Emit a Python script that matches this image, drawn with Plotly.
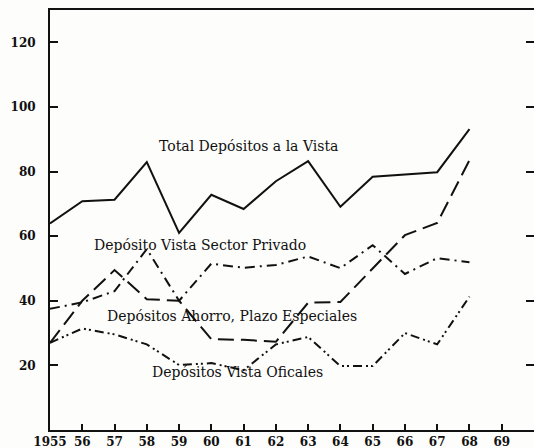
import plotly.graph_objects as go

# Depósitos (1955-1968), valores
anios = list(range(1955, 1969))
total_vista = [63.9, 70.8, 71.3, 82.9, 61.0, 72.8, 68.4, 77.0, 83.2, 69.1, 78.4, 79.0, 79.8, 93.1]
vista_privado = [37.5, 39.5, 43.0, 56.0, 40.0, 51.5, 50.2, 51.1, 53.7, 50.1, 57.2, 48.3, 53.2, 51.9]
ahorro_plazo = [27.0, 40.0, 49.5, 40.5, 40.0, 28.1, 27.9, 27.3, 39.4, 39.6, 50.0, 60.3, 64.1, 83.5]
vista_oficiales = [27.0, 31.4, 29.6, 26.5, 20.1, 20.7, 18.5, 26.5, 28.8, 19.8, 19.8, 30.0, 26.5, 41.3]

xtick_vals = list(range(1955, 1970))
xtick_text = ["1955"] + [str(a)[2:] for a in range(1956, 1970)]
ytick_vals = [20, 40, 60, 80, 100, 120]

TINTA = "#111111"
SERIF = "DejaVu Serif"

series = [
    (total_vista, "solid"),
    (vista_privado, "10px,5px,2px,5px"),
    (ahorro_plazo, "16px,7px"),
    (vista_oficiales, "9px,4px,2px,3px,2px,4px"),
]

fig = go.Figure()
for ys, dash in series:
    fig.add_trace(go.Scatter(x=anios, y=ys, mode="lines", showlegend=False,
                             line=dict(color=TINTA, width=2, dash=dash)))
# eje derecho: solo marcas (el borde queda fuera de la imagen)
fig.add_trace(go.Scatter(x=[None], y=[None], yaxis="y2", showlegend=False))

etiquetas = [
    ("Total Depósitos a la Vista", 1961.15, 88.0),
    ("Depósito Vista Sector Privado", 1959.65, 57.3),
    ("Depósitos Ahorro, Plazo Especiales", 1960.65, 35.2),
    ("Depósitos Vista Oficales", 1960.8, 17.8),
]
for txt, xa, ya in etiquetas:
    fig.add_annotation(x=xa, y=ya, xref="x", yref="y", text=txt, showarrow=False,
                       font=dict(family=SERIF, size=14, color=TINTA))

fig.update_layout(
    width=534, height=448,
    paper_bgcolor="#fdfdfb", plot_bgcolor="#fdfdfb",
    margin=dict(l=50, r=0, t=10, b=18, autoexpand=False),
    xaxis=dict(range=[1955, 1970], tickvals=xtick_vals, ticktext=xtick_text,
               ticks="inside", ticklen=6, tickwidth=1.5, tickcolor=TINTA,
               showline=True, linecolor=TINTA, linewidth=2, mirror=True,
               showgrid=False, zeroline=False, automargin=False,
               tickfont=dict(family=SERIF, size=12, color=TINTA, weight="bold")),
    yaxis=dict(range=[0, 130], tickvals=ytick_vals,
               ticks="inside", ticklen=8, tickwidth=2, tickcolor=TINTA,
               showline=True, linecolor=TINTA, linewidth=2, automargin=False,
               showgrid=False, zeroline=False, ticklabelstandoff=10,
               tickfont=dict(family=SERIF, size=12, color=TINTA, weight="bold")),
    yaxis2=dict(range=[0, 130], tickvals=ytick_vals, overlaying="y", side="right",
                ticks="inside", ticklen=8, tickwidth=2, tickcolor=TINTA, automargin=False,
                showline=False, showgrid=False, zeroline=False, showticklabels=False),
)

fig.write_html("out.html", config={"displayModeBar": False},
               post_script="document.body.style.margin='0';document.body.style.overflow='hidden';")
